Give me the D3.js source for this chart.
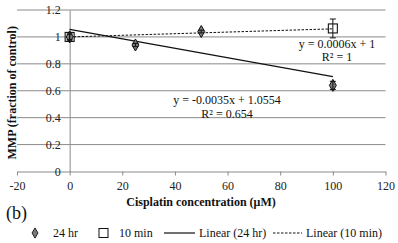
<!DOCTYPE html>
<html><head><meta charset="utf-8">
<script src="https://cdn.jsdelivr.net/npm/d3@7"></script>
<style>body{margin:0;background:#fff}svg{display:block}</style>
</head><body>
<script>
const conc24 = [0, 25, 50, 100];
const mmp24 = [1.0, 0.94, 1.04, 0.64];
const err24 = [0.03, 0.012, 0.01, 0.03];
const conc10 = [0, 100];
const mmp10 = [1.0, 1.063];
const err10 = [0.02, 0.07];
const trend24 = {slope: -0.0035, intercept: 1.0554, label: "y = -0.0035x + 1.0554", r2: "R² = 0.654"};
const trend10 = {slope: 0.0006, intercept: 1, label: "y = 0.0006x + 1", r2: "R² = 1"};
const xTicks = [-20, 0, 20, 40, 60, 80, 100, 120];
const yTicks = [0, 0.2, 0.4, 0.6, 0.8, 1, 1.2];

const W = 398, H = 243;
const svg = d3.select("body").append("svg").attr("width", W).attr("height", H)
  .style("font-family", "'Liberation Serif', 'Times New Roman', serif");
const x = d3.scaleLinear().domain([-20, 120]).range([17, 385.5]);
const y = d3.scaleLinear().domain([0, 1.2]).range([171.5, 10]);
const grid = "#8a8a8a";

// gridlines
svg.append("g").selectAll("line").data(yTicks.filter(d => d > 0)).join("line")
  .attr("x1", x(-20)).attr("x2", x(120)).attr("y1", d => y(d)).attr("y2", d => y(d))
  .attr("stroke", grid).attr("stroke-width", 1);

// x axis
const xa = svg.append("g").attr("transform", `translate(0,${y(0)})`)
  .call(d3.axisBottom(x).tickValues(xTicks).tickSize(4).tickSizeOuter(0).tickFormat(d => String(d)));
xa.select(".domain").attr("stroke", grid);
xa.selectAll(".tick line").attr("stroke", grid);
xa.selectAll("text").attr("font-size", 12).attr("fill", "#222").attr("dy", "0.95em")
  .style("font-family", "'Liberation Serif', serif");

// y axis at x=0
const ya = svg.append("g").attr("transform", `translate(${x(0)},0)`)
  .call(d3.axisLeft(y).tickValues(yTicks).tickSize(0).tickFormat(d => String(d)));
ya.select(".domain").attr("stroke", grid);
ya.selectAll("text").attr("x", -9).attr("font-size", 12).attr("fill", "#222")
  .style("font-family", "'Liberation Serif', serif");

// trend lines
function trend(t, dash) {
  svg.append("line").attr("x1", x(0)).attr("x2", x(100))
    .attr("y1", y(t.intercept)).attr("y2", y(t.intercept + t.slope * 100))
    .attr("stroke", "#111").attr("stroke-width", dash ? 1 : 1.3)
    .attr("stroke-dasharray", dash ? "2.5,1.5" : null);
}
trend(trend24, false);
trend(trend10, true);

// error bars
function errbars(cx, cy, ce) {
  const g = svg.append("g").attr("stroke", "#111").attr("stroke-width", 1);
  cx.forEach((c, i) => {
    const px = x(c);
    g.append("line").attr("x1", px).attr("x2", px).attr("y1", y(cy[i] - ce[i])).attr("y2", y(cy[i] + ce[i]));
    [cy[i] - ce[i], cy[i] + ce[i]].forEach(v =>
      g.append("line").attr("x1", px - 3).attr("x2", px + 3).attr("y1", y(v)).attr("y2", y(v)));
  });
}

// 24 hr markers (diamonds)
svg.append("g").selectAll("path").data(conc24).join("path")
  .attr("d", d3.symbol().type(d3.symbolDiamond).size(42))
  .attr("transform", (d, i) => `translate(${x(d)},${y(mmp24[i])})`)
  .attr("fill", "#7a7a7a").attr("stroke", "#111").attr("stroke-width", 1);
errbars(conc24, mmp24, err24);

// 10 min markers (squares)
svg.append("g").selectAll("rect").data(conc10).join("rect")
  .attr("x", d => x(d) - 4.5).attr("y", (d, i) => y(mmp10[i]) - 4.5)
  .attr("width", 9).attr("height", 9)
  .attr("fill", "none").attr("stroke", "#111").attr("stroke-width", 1.1);
errbars(conc10, mmp10, err10);

// equation labels
const eq = svg.append("g").attr("font-size", 12).attr("fill", "#111").attr("text-anchor", "middle");
eq.append("text").attr("x", 337).attr("y", 48).text(trend10.label);
eq.append("text").attr("x", 337).attr("y", 61).text(trend10.r2);
eq.append("text").attr("x", 227).attr("y", 104).text(trend24.label);
eq.append("text").attr("x", 227).attr("y", 118).text(trend24.r2);

// axis titles
svg.append("text").attr("x", 201).attr("y", 206).attr("text-anchor", "middle")
  .attr("font-size", 12).attr("font-weight", "bold").attr("fill", "#111")
  .text("Cisplatin concentration (μM)");
svg.append("text").attr("transform", `translate(16,${(y(0) + y(1.2)) / 2 + 2}) rotate(-90)`)
  .attr("text-anchor", "middle").attr("font-size", 12).attr("font-weight", "bold").attr("fill", "#111")
  .text("MMP (fraction of control)");

svg.append("text").attr("x", 6).attr("y", 219).attr("font-size", 18).attr("fill", "#111").text("(b)");

// legend
const lg = svg.append("g").attr("font-size", 12).attr("fill", "#111");
const ly = 233;
lg.append("path").attr("d", d3.symbol().type(d3.symbolDiamond).size(30)())
  .attr("transform", `translate(35,${ly})`).attr("fill", "#7a7a7a").attr("stroke", "#222");
lg.append("text").attr("x", 53).attr("y", ly + 4).text("24 hr");
lg.append("rect").attr("x", 99).attr("y", ly - 4.5).attr("width", 9).attr("height", 9)
  .attr("fill", "none").attr("stroke", "#111");
lg.append("text").attr("x", 119).attr("y", ly + 4).text("10 min");
lg.append("line").attr("x1", 164).attr("x2", 195).attr("y1", ly).attr("y2", ly).attr("stroke", "#111").attr("stroke-width", 1.2);
lg.append("text").attr("x", 199).attr("y", ly + 4).text("Linear (24 hr)");
lg.append("line").attr("x1", 273).attr("x2", 302).attr("y1", ly).attr("y2", ly).attr("stroke", "#111").attr("stroke-dasharray", "2.5,1.5");
lg.append("text").attr("x", 306).attr("y", ly + 4).text("Linear (10 min)");
</script>
</body></html>
